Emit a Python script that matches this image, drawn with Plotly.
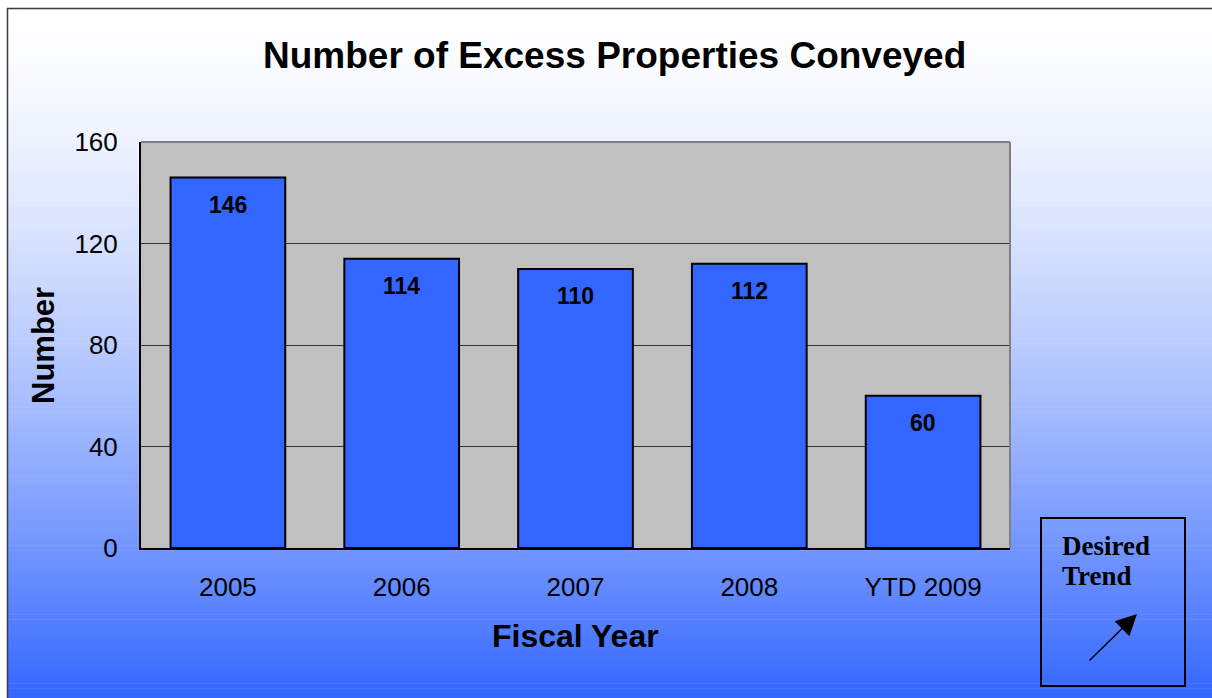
import plotly.graph_objects as go

categories = ["2005", "2006", "2007", "2008", "YTD 2009"]
values = [146, 114, 110, 112, 60]
y_ticks = [0, 40, 80, 120, 160]

W, H = 1212, 698
L, R, T, B = 141, 202, 142, 150
PW, PH = W - L - R, H - T - B


def px_x(px):
    """picture x pixel -> paper coordinate"""
    return (px - L) / PW


def px_y(py):
    """picture y pixel -> paper coordinate"""
    return (H - B - py) / PH


fig = go.Figure()
fig.add_trace(go.Bar(
    x=categories, y=values,
    marker=dict(color="#3366FF", line=dict(color="black", width=2)),
    hoverinfo="skip",
))

shapes = []
# gradient background bands
top, bot = 8, 698
n = 140
for i in range(n):
    y0 = top + (bot - top) * i / n
    y1 = top + (bot - top) * (i + 1) / n
    f = ((y0 + y1) / 2 - top) / (bot - top)
    f = f ** 1.5
    r = round(255 - (255 - 0x33) * f)
    g = round(255 - (255 - 0x66) * f)
    shapes.append(dict(type="rect", xref="paper", yref="paper",
                       x0=px_x(7), x1=px_x(1225), y0=px_y(y1 + 0.6), y1=px_y(y0),
                       fillcolor=f"rgb({r},{g},255)", line=dict(width=0), layer="below"))
# outer frame (left + top)
shapes.append(dict(type="line", xref="paper", yref="paper", x0=px_x(7.5), x1=px_x(7.5),
                   y0=px_y(8), y1=px_y(710), line=dict(color="#3a3a4a", width=1.5), layer="above"))
shapes.append(dict(type="line", xref="paper", yref="paper", x0=px_x(7), x1=px_x(1225),
                   y0=px_y(8.5), y1=px_y(8.5), line=dict(color="#3a3a4a", width=1.5), layer="above"))
# plot background
shapes.append(dict(type="rect", xref="paper", yref="paper", x0=0, x1=1, y0=0, y1=1,
                   fillcolor="#C0C0C0", line=dict(width=0), layer="below"))
# top and right plot border (gray)
shapes.append(dict(type="line", xref="paper", yref="paper", x0=0, x1=1, y0=1, y1=1,
                   line=dict(color="#808080", width=2), layer="above"))
shapes.append(dict(type="line", xref="paper", yref="paper", x0=1, x1=1, y0=0, y1=1,
                   line=dict(color="#808080", width=2), layer="above"))
# desired trend box
shapes.append(dict(type="rect", xref="paper", yref="paper",
                   x0=px_x(1041), x1=px_x(1185), y0=px_y(686), y1=px_y(518),
                   line=dict(color="black", width=2), fillcolor="rgba(0,0,0,0)", layer="above"))

SANS = "Liberation Sans, Arial"
SERIF = "Liberation Serif, Times New Roman"

annotations = []
for i, v in enumerate(values):
    annotations.append(dict(x=i, y=v, xref="x", yref="y", text=f"<b>{v}</b>", showarrow=False,
                            yanchor="middle", yshift=-27,
                            font=dict(family=SANS, size=23, color="black")))
annotations.append(dict(xref="paper", yref="paper", x=px_x(614), y=px_y(55),
                        text="<b>Number of Excess Properties Conveyed</b>", showarrow=False,
                        xanchor="center", yanchor="middle",
                        font=dict(family=SANS, size=37, color="black")))
annotations.append(dict(xref="paper", yref="paper", x=px_x(575), y=px_y(636),
                        text="<b>Fiscal Year</b>", showarrow=False,
                        xanchor="center", yanchor="middle",
                        font=dict(family=SANS, size=32, color="black")))
annotations.append(dict(xref="paper", yref="paper", x=px_x(43), y=px_y(346),
                        text="<b>Number</b>", showarrow=False, textangle=-90,
                        xanchor="center", yanchor="middle",
                        font=dict(family=SANS, size=31, color="black")))
annotations.append(dict(xref="paper", yref="paper", x=px_x(1060), y=px_y(546),
                        text="<b>Desired</b>", showarrow=False,
                        xanchor="left", yanchor="middle",
                        font=dict(family=SERIF, size=27, color="black")))
annotations.append(dict(xref="paper", yref="paper", x=px_x(1060), y=px_y(576),
                        text="<b>Trend</b>", showarrow=False,
                        xanchor="left", yanchor="middle",
                        font=dict(family=SERIF, size=27, color="black")))
annotations.append(dict(xref="paper", yref="paper", x=px_x(1137), y=px_y(614),
                        text="", showarrow=True, ax=-49, ay=48, axref="pixel", ayref="pixel",
                        arrowhead=2, arrowsize=2.8, arrowwidth=1.5, arrowcolor="black"))

fig.update_layout(
    width=W, height=H,
    margin=dict(l=L, r=R, t=T, b=B, autoexpand=False),
    paper_bgcolor="white",
    plot_bgcolor="rgba(0,0,0,0)",
    showlegend=False,
    bargap=0.34,
    shapes=shapes,
    annotations=annotations,
    xaxis=dict(type="category", showline=True, linecolor="black", linewidth=2,
               showgrid=False, ticks="", ticklabelstandoff=15,
               tickfont=dict(family=SANS, size=26, color="black")),
    yaxis=dict(range=[0, 160], tickvals=y_ticks, showline=True, linecolor="black", linewidth=2,
               showgrid=True, gridcolor="#333333", gridwidth=1, zeroline=False, ticks="",
               ticklabelstandoff=16,
               tickfont=dict(family=SANS, size=26, color="black")),
)

fig.write_html(
    "out.html",
    config={"displayModeBar": False},
    post_script=(
        "document.body.style.margin='0';"
        "document.body.style.overflow='hidden';"
        "document.documentElement.style.overflow='hidden';"
    ),
)
